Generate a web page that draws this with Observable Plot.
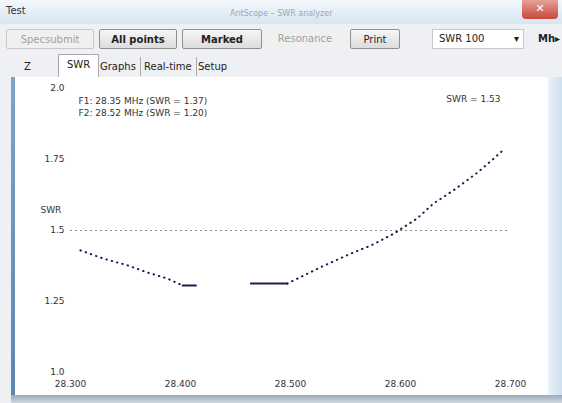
<!DOCTYPE html>
<html><head><meta charset="utf-8">
<script src="https://cdn.jsdelivr.net/npm/d3@7"></script>
<script src="https://cdn.jsdelivr.net/npm/@observablehq/plot@0.6"></script>
<style>
html,body{margin:0;padding:0;}
body{width:562px;height:403px;overflow:hidden;position:relative;background:#eef0f3;font-family:"DejaVu Sans",sans-serif;font-size:10px;color:#222;}
.abs{position:absolute;white-space:nowrap;}
#titlebar{left:0;top:0;width:562px;height:24px;background:linear-gradient(#f4f8fc,#d6e4f3);}
#titlebar .t{left:6px;top:5px;font-size:10px;color:#333;}
#titlebar .c{left:230px;top:9px;font-size:8px;color:#9aa6b4;}
#close{left:522px;top:0;width:36px;height:19px;background:linear-gradient(#e6a196,#c8473c);border-radius:0 0 4px 4px;color:#fff;text-align:center;font-size:11px;line-height:18px;}
.btn{height:20px;top:29px;border:1px solid #8e8f8f;border-radius:2px;background:linear-gradient(#f6f6f6,#dcdcdc);text-align:center;line-height:20px;font-size:10px;box-sizing:border-box;}
.dis{color:#a0a0a0;border-color:#c8c8c8;background:#f0f0f0;}
.tab{top:57px;height:19px;line-height:19px;font-size:10px;padding:0 4px;border-right:1px solid #aaa;}
#panel{left:15px;top:77px;width:533px;height:318px;background:#fff;}
#lbar{left:11px;top:77px;width:4px;height:320px;background:linear-gradient(#7fa3c8,#5f86b0);}
#rbar{left:548px;top:77px;width:14px;height:326px;background:linear-gradient(90deg,#e9f1f8,#cfe0ef);}
#bbar{left:11px;top:395px;width:551px;height:8px;background:linear-gradient(#9aa9b8,#cfd8e2);}
</style></head>
<body>
<div id="titlebar" class="abs"><span class="abs t">Test</span><span class="abs c">AntScope – SWR analyzer</span></div>
<div id="close" class="abs">✕</div>
<div class="abs btn dis" style="left:6px;width:88px;">Specsubmit</div>
<div class="abs btn" style="left:99px;width:78px;font-weight:bold;">All points</div>
<div class="abs btn" style="left:182px;width:80px;font-weight:bold;">Marked</div>
<div class="abs btn dis" style="left:266px;width:78px;border:none;">Resonance</div>
<div class="abs btn" style="left:350px;width:50px;">Print</div>
<div class="abs" style="left:432px;top:29px;width:92px;height:20px;background:#fff;border:1px solid #c8c8c8;box-sizing:border-box;line-height:18px;padding-left:6px;">SWR 100<span style="position:absolute;right:4px;">▾</span></div>
<div class="abs" style="left:538px;top:33px;font-weight:bold;">Mh▸</div>
<div class="abs tab" style="left:20px;border:none;">Z</div>
<div class="abs tab" style="left:58px;top:54px;height:22px;background:#fff;border:1px solid #aaa;border-bottom:none;padding:0 8px;">SWR</div>
<div class="abs tab" style="left:96px;">Graphs</div>
<div class="abs tab" style="left:140px;">Real-time</div>
<div class="abs tab" style="left:194px;border:none;">Setup</div>
<div id="lbar" class="abs"></div>
<div id="rbar" class="abs"></div>
<div id="bbar" class="abs"></div>
<div id="panel" class="abs"></div>
<script>
// ---- data ----
const freqTicks = [28.3, 28.4, 28.5, 28.6, 28.7];
const swrTicks = [1, 1.25, 1.5, 1.75, 2];
const swrTickLabels = ["1.0", "1.25", "1.5", "1.75", "2.0"];
const swrLimit = 1.5;

const fallFreq = [28.309, 28.330, 28.352, 28.370, 28.388, 28.402];
const fallSwr  = [1.430, 1.401, 1.377, 1.352, 1.331, 1.306];

const flat1Freq = [28.402, 28.414];
const flat1Swr  = [1.306, 1.306];

const flat2Freq = [28.464, 28.497];
const flat2Swr  = [1.313, 1.313];

const riseFreq = [28.497, 28.527, 28.555, 28.573, 28.594, 28.615, 28.630, 28.648, 28.670, 28.685, 28.695];
const riseSwr  = [1.313, 1.370, 1.419, 1.447, 1.489, 1.542, 1.595, 1.641, 1.704, 1.754, 1.789];

const markerLines = ["F1: 28.35 MHz (SWR = 1.37)", "F2: 28.52 MHz (SWR = 1.20)"];
const swrReadout = "SWR = 1.53";
const yAxisName = "SWR";

const toRows = (xs, ys) => xs.map((x, i) => ({freq: x, swr: ys[i]}));
const fall = toRows(fallFreq, fallSwr);
const flat1 = toRows(flat1Freq, flat1Swr);
const flat2 = toRows(flat2Freq, flat2Swr);
const rise = toRows(riseFreq, riseSwr);

const navy = "#1c1c52";
const dotted = {x: "freq", y: "swr", stroke: navy, strokeWidth: 2, strokeDasharray: "0.5,5", strokeLinecap: "round"};
const chart = Plot.plot({
  width: 533, height: 318,
  marginLeft: 55, marginRight: 38, marginTop: 11, marginBottom: 23,
  style: {fontFamily: "DejaVu Sans, sans-serif", fontSize: "9px", color: "#333", background: "transparent"},
  x: {domain: [28.3, 28.7]},
  y: {domain: [1, 2]},
  marks: [
    Plot.axisX({ticks: freqTicks, tickSize: 0, tickPadding: 8, label: null, tickFormat: d3.format(".3f")}),
    Plot.axisY({ticks: swrTicks, tickSize: 0, tickPadding: 6, label: null,
      tickFormat: d => swrTickLabels[swrTicks.indexOf(d)]}),
    Plot.ruleY([swrLimit], {stroke: "#8a8a8a", strokeDasharray: "2,3"}),
    Plot.line(fall, dotted),
    Plot.line(rise, dotted),
    Plot.line(flat1, {x: "freq", y: "swr", stroke: navy, strokeWidth: 2}),
    Plot.line(flat2, {x: "freq", y: "swr", stroke: navy, strokeWidth: 2}),
    Plot.text([markerLines.join("\n")], {frameAnchor: "top-left", textAnchor: "start", lineAnchor: "top", dx: 8, dy: 7, lineHeight: 1.35, fill: "#333"}),
    Plot.text([swrReadout], {frameAnchor: "top-right", textAnchor: "end", lineAnchor: "top", dx: -10, dy: 7, fill: "#333"}),
    Plot.text([yAxisName], {frameAnchor: "left", textAnchor: "start", dx: -30, dy: -20, fill: "#333"})
  ]
});
chart.style.position = "absolute";
chart.style.left = "15px";
chart.style.top = "77px";
document.body.appendChild(chart);
</script>
</body></html>
